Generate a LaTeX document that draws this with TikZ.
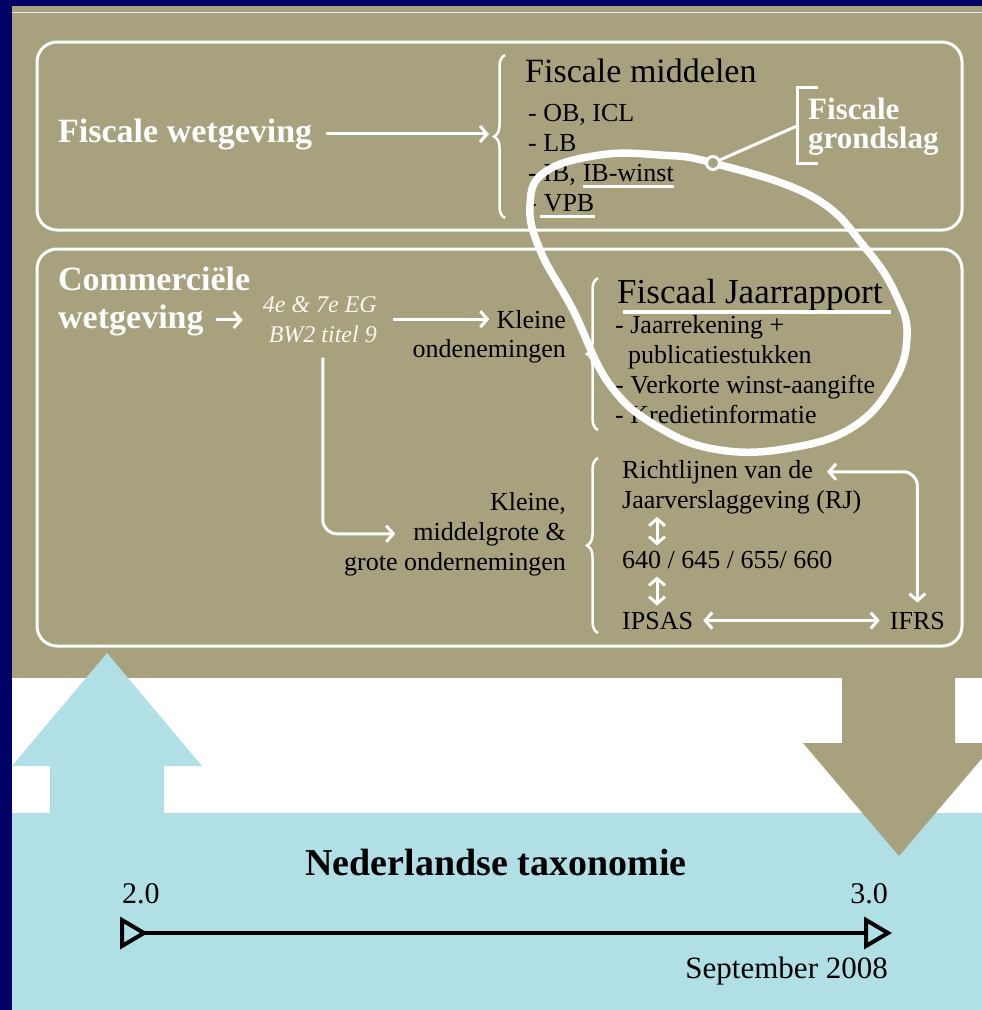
\documentclass[tikz,border=0pt]{standalone}
\usepackage{fontspec}
\setmainfont{Liberation Serif}
\usetikzlibrary{arrows.meta,decorations.pathreplacing}

\definecolor{navy}{RGB}{0,0,102}
\definecolor{khaki}{RGB}{167,161,125}
\definecolor{pblue}{RGB}{176,223,229}
\definecolor{cream}{RGB}{250,248,238}

\newcommand\fsz[2]{\fontsize{#1}{#2}\selectfont}

\begin{document}
\begin{tikzpicture}[
        x=1pt, y=-1pt,
        txt/.style={inner sep=0pt, font=\fsz{26}{30}},
        big/.style={inner sep=0pt, font=\fsz{34}{38}},
        bold/.style={inner sep=0pt, text=white, font=\fsz{34}{38}\bfseries},
        law/.style={inner sep=0pt, text=cream, font=\fsz{24}{30}\itshape},
        frame/.style={draw=white, line width=3pt, rounded corners=20pt},
        uline/.style={draw=white, line width=3pt},
        arr/.style={draw=white, line width=3pt, -{Straight Barb[length=7pt,width=16pt]}},
        dbl/.style={draw=white, line width=3pt, {Straight Barb[length=7pt,width=16pt]}-{Straight Barb[length=7pt,width=16pt]}},
        curly/.style={draw=white, line width=2.5pt, decorate, decoration={brace, amplitude=11pt}},
        lasso/.style={draw=white, line width=7.5pt},
        tl/.style={draw=black, line width=4pt}
    ]
    \useasboundingbox (0,0) rectangle (982,1010);

    % --- Background bands ---
    \fill[navy] (0,0) rectangle (982,1010);
    \fill[khaki] (12,6) rectangle (982,678);
    \fill[white] (12,678) rectangle (982,813);
    \fill[pblue] (12,813) rectangle (982,1010);
    \draw[white!75!khaki, line width=1pt] (12,12) -- (982,12);

    % Big block arrows
    \fill[pblue] (50,813) -- (50,766) -- (12,766) -- (107,653) -- (202,766) -- (164,766) -- (164,813) -- cycle;
    \fill[khaki] (842,678) -- (842,743) -- (803,743) -- (899,856) -- (995,743) -- (955,743) -- (955,678) -- cycle;

    % --- Frames ---
    \draw[frame] (37,42) rectangle (962,230);
    \draw[frame] (37,249) rectangle (962,646);

    % --- Fiscale wetgeving ---
    \node[bold, anchor=base west] (fw) at (58,142) {Fiscale wetgeving};
    \coordinate (brA) at (489,132);
    \draw[curly] (505,218) -- (505,55);
    \draw[arr] ([xshift=14pt]fw.east) -- (fw.east -| brA);

    \node[big, anchor=base west] (fm) at (525,82) {Fiscale middelen};
    \node[txt, anchor=base west] (fm1) at (528,121) {- OB, ICL};
    \node[txt, anchor=base west] (fm2) at (528,151) {- LB};
    \node[txt, anchor=base west] (fm3) at (528,181) {- IB,};
    \node[txt, anchor=base west] (fm3b) at ([xshift=6.5pt]fm3.base east) {IB-winst};
    \node[txt, anchor=base west] (fm4) at (528,211) {-};
    \node[txt, anchor=base west] (fm4b) at ([xshift=6.5pt]fm4.base east) {VPB};
    \draw[uline] ([yshift=-5pt]fm3b.base west) -- ([yshift=-5pt]fm3b.base east);
    \draw[uline] ([xshift=-4pt, yshift=-5pt]fm4b.base west) -- ([yshift=-5pt]fm4b.base east);

    % Fiscale grondslag
    \node[bold, font=\fsz{31}{27}\bfseries, anchor=base west] (fg1) at (808,119) {Fiscale};
    \node[bold, font=\fsz{31}{27}\bfseries, anchor=base west] (fg2) at (808,148) {grondslag};
    \draw[white, line width=3pt] (818,87) -- (797,87) -- (797,163) -- (818,163);
    \coordinate (fgb) at (797,126);

    % --- Commerciele wetgeving ---
    \node[bold, anchor=base west] (cw1) at (58,290) {Commerciële};
    \node[bold, anchor=base west] (cw2) at (58,328) {wetgeving};
    \node[law, anchor=base east] (eg1) at (377,312) {4e \& 7e EG};
    \node[law, anchor=base east] (eg2) at (377,342) {BW2 titel 9};
    \draw[arr] ([xshift=12pt]cw2.east) -- ([xshift=-20pt]eg1.west |- cw2.east);

    \node[txt, anchor=base east] (kl1) at (566,328) {Kleine};
    \node[txt, anchor=base east] (kl2) at (566,357) {ondenemingen};
    \draw[arr] ([xshift=16pt]eg2.east |- kl1.west) -- ([xshift=-7pt]kl1.west);

    \draw[curly] (598,430) -- (598,278);
    \node[txt, font=\fsz{35}{40}, anchor=base west] (fj) at (617,303) {Fiscaal Jaarrapport};
    \draw[uline, line width=3.5pt] ([xshift=6pt, yshift=-9pt]fj.base west) -- ([xshift=8pt, yshift=-9pt]fj.base east);
    \node[txt, anchor=base west] (fj1) at (615,333) {- Jaarrekening +};
    \node[txt, anchor=base west] (fj2) at (628,363) {publicatiestukken};
    \node[txt, anchor=base west] (fj3) at (615,393) {- Verkorte winst-aangifte};
    \node[txt, anchor=base west] (fj4) at (615,423) {- Kredietinformatie};

    % lower branch
    \node[txt, anchor=base east] (km1) at (566,510) {Kleine,};
    \node[txt, anchor=base east] (km2) at (566,540) {middelgrote \&};
    \node[txt, anchor=base east] (km3) at (566,570) {grote ondernemingen};
    \draw[arr, rounded corners=14pt] ([yshift=-15pt]eg2.south) |- ([xshift=-18pt]km2.west);

    \draw[curly] (598,633) -- (598,458);
    \node[txt, anchor=base west] (rj1) at (622,478) {Richtlijnen van de};
    \node[txt, anchor=base west] (rj2) at (622,508) {Jaarverslaggeving (RJ)};
    \node[txt, anchor=base west] (nr) at (622,568) {640 / 645 / 655/ 660};
    \node[txt, anchor=base west] (ipsas) at (622,629) {IPSAS};
    \node[txt, anchor=base east] (ifrs) at (945,629) {IFRS};

    \draw[dbl, shorten <=3pt, shorten >=5pt] ([xshift=35pt]rj2.south west) -- ([xshift=35pt]nr.north west);
    \draw[dbl, shorten <=8pt, shorten >=6pt] ([xshift=35pt]nr.south west) -- ([xshift=35pt]ipsas.north west);
    \draw[dbl] ([xshift=10pt]ipsas.east) -- ([xshift=-10pt]ifrs.west);
    \draw[dbl, rounded corners=14pt] ([xshift=14pt]rj1.east) -| ([yshift=9pt]ifrs.north);

    % --- Lasso round the fiscal part ---
    \draw[lasso] plot[smooth cycle, tension=0.7] coordinates {(713,163) (813,197) (867,250) (897,297) (907,337) (893,383) (853,427) (790,448) (720,450) (660,428) (610,385) (573,310) (540,250) (530,205) (545,172) (600,155) (660,155)};
    \node[draw=white, line width=3pt, fill=khaki, circle, inner sep=0pt, minimum size=13pt] (knot) at (713,163) {};
    \draw[white, line width=3pt] (knot) -- (fgb);

    % --- Taxonomie timeline ---
    \node[inner sep=0pt, font=\fsz{38}{40}\bfseries, anchor=base] (tax) at (496,875) {Nederlandse taxonomie};
    \node[inner sep=0pt, font=\fsz{30}{32}, anchor=base west] (v2) at (122,903) {2.0};
    \node[inner sep=0pt, font=\fsz{30}{32}, anchor=base east] (v3) at (888,903) {3.0};
    \node[inner sep=0pt, font=\fsz{31}{32}, anchor=base east] (sep) at (888,978) {September 2008};
    \coordinate (tA) at (144,933);
    \coordinate (tB) at (866,933);
    \draw[tl] (tA) -- (tB);
    \draw[tl] (tA) -- ++(-22,-13) -- ++(0,26) -- cycle;
    \draw[tl] (tB) ++(22,0) -- ++(-22,-13) -- ++(0,26) -- cycle;

\end{tikzpicture}
\end{document}
